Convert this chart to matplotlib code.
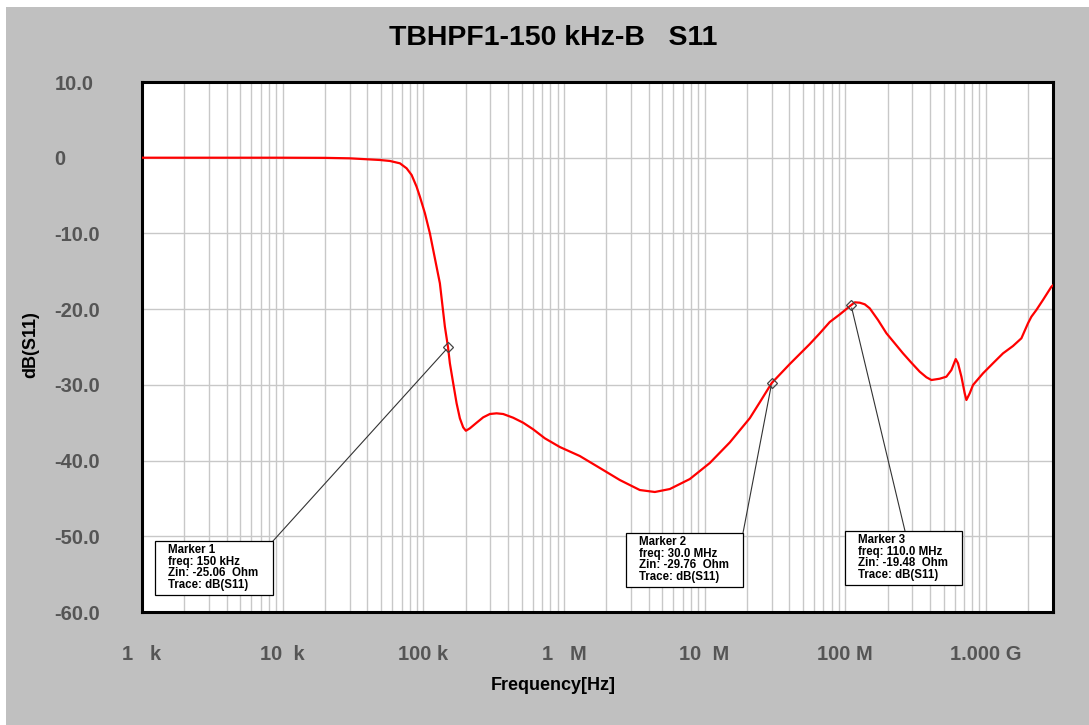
import numpy as np
import matplotlib
matplotlib.use("Agg")
import matplotlib.pyplot as plt
from matplotlib.patches import Rectangle
from matplotlib.ticker import LogLocator, NullFormatter

# ---- data ----
freq_hz = [1e3, 5e3, 1e4, 2e4, 3e4, 49.1e3, 57.9e3, 68.2e3, 76.1e3, 82.6e3, 89.6e3, 94.6e3,
           102.7e3, 111.4e3, 120.9e3, 131.2e3, 142.4e3, 150e3, 154.5e3, 163.2e3, 172.5e3,
           182.0e3, 192.1e3, 200.8e3, 214.4e3, 239.3e3, 266.6e3, 297.4e3, 331.9e3, 369.8e3,
           435.5e3, 512.9e3, 604.0e3, 731.6e3,
           935e3, 1.297e6, 1.800e6, 2.497e6, 3.463e6, 4.428e6, 5.657e6, 7.850e6, 10.89e6,
           15.11e6, 20.96e6, 24.69e6, 30.0e6, 40.32e6, 55.94e6, 65.9e6, 77.6e6, 91.4e6,
           110e6, 116.8e6, 126.8e6, 137.6e6, 149.3e6, 171.1e6, 196.3e6, 224.8e6, 257.5e6,
           295.4e6, 338.4e6, 377.7e6, 410.0e6, 469.5e6, 524.0e6, 568.5e6, 610.2e6, 633.5e6,
           669.8e6, 707.0e6, 726.9e6, 767.3e6, 809.8e6, 953.7e6, 1.123e9, 1.323e9, 1.558e9,
           1.788e9, 1.992e9, 2.106e9, 2.285e9, 2.545e9, 2.922e9, 3.0e9]
s11_db = [0.0, 0.0, 0.0, -0.02, -0.08, -0.30, -0.43, -0.74, -1.40, -2.28, -3.83, -5.15,
          -7.34, -9.99, -13.29, -16.59, -22.32, -25.06, -27.15, -29.80, -32.44,
          -34.42, -35.61, -36.06, -35.74, -35.00, -34.29, -33.85, -33.76, -33.85,
          -34.34, -35.00, -35.87, -37.06,
          -38.21, -39.40, -40.98, -42.57, -43.89, -44.15, -43.76, -42.44, -40.32,
          -37.60, -34.40, -32.30, -29.76, -27.25, -24.61, -23.19, -21.70, -20.70,
          -19.48, -19.10, -19.15, -19.36, -19.89, -21.44, -23.19, -24.51, -25.84,
          -27.08, -28.26, -29.00, -29.36, -29.19, -28.92, -28.04, -26.59, -27.15,
          -28.92, -31.12, -32.00, -31.12, -30.02, -28.48, -27.15, -25.84, -24.87,
          -23.85, -21.87, -21.00, -20.11, -18.79, -17.04, -16.85]

marker_freq = [150e3, 30.0e6, 110.0e6]
marker_db = [-25.06, -29.76, -19.48]
marker_text = [
    ["Marker 1", "freq: 150 kHz", "Zin: -25.06  Ohm", "Trace: dB(S11)"],
    ["Marker 2", "freq: 30.0 MHz", "Zin: -29.76  Ohm", "Trace: dB(S11)"],
    ["Marker 3", "freq: 110.0 MHz", "Zin: -19.48  Ohm", "Trace: dB(S11)"],
]

xtick_vals = [1e3, 1e4, 1e5, 1e6, 1e7, 1e8, 1e9]
xtick_labels = ["1   k", "10  k", "100 k", "1   M", "10  M", "100 M", "1.000 G"]
ytick_vals = [10, 0, -10, -20, -30, -40, -50, -60]
ytick_labels = ["10.0", "0", "-10.0", "-20.0", "-30.0", "-40.0", "-50.0", "-60.0"]

title = "TBHPF1-150 kHz-B   S11"

# ---- figure ----
W, H = 1089, 725
plt.rcParams['font.family'] = ['Liberation Sans', 'DejaVu Sans']
fig = plt.figure(figsize=(W / 100, H / 100), dpi=100, facecolor="white")
fig.patches.append(Rectangle((6 / W, 0), 1 - 6 / W, 1 - 7 / H, transform=fig.transFigure,
                             facecolor="#c0c0c0", edgecolor="none", zorder=-10))

L, R, T, B = 142, 1053, 82, 612
ax = fig.add_axes([L / W, 1 - B / H, (R - L) / W, (B - T) / H])
ax.set_facecolor("white")

ax.set_xscale("log")
ax.set_xlim(1e3, 3e9)
ax.set_ylim(-60, 10)

ax.plot(freq_hz, s11_db, color="#ff0000", lw=1.6, zorder=3, solid_joinstyle="round")

# grid
ax.xaxis.set_major_locator(LogLocator(base=10, numticks=20))
ax.xaxis.set_minor_locator(LogLocator(base=10, subs=np.arange(2, 10), numticks=100))
ax.xaxis.set_minor_formatter(NullFormatter())
ax.grid(True, which="both", axis="x", color="#c8c8c8", lw=1.0)
ax.grid(True, which="major", axis="y", color="#c8c8c8", lw=1.0)
ax.set_axisbelow(True)

ax.set_xticks(xtick_vals)
ax.set_xticklabels(xtick_labels)
ax.set_yticks(ytick_vals)
ax.set_yticklabels(ytick_labels)
ax.tick_params(axis="both", which="both", length=0)
ax.tick_params(axis="x", pad=24, labelsize=14.5, labelcolor="#555555")
ax.tick_params(axis="y", pad=63, labelsize=14.5, labelcolor="#555555")
for lbl in ax.get_xticklabels() + ax.get_yticklabels():
    lbl.set_fontweight("bold")
for lbl in ax.get_yticklabels():
    lbl.set_horizontalalignment("left")

for sp in ax.spines.values():
    sp.set_linewidth(2.2)
    sp.set_color("black")

fig.text(553 / W, 1 - 38 / H, title, ha="center", va="center", fontsize=20.5,
         fontweight="bold", color="black")
fig.text(553 / W, 1 - 686 / H, "Frequency[Hz]", ha="center", va="center", fontsize=13,
         fontweight="bold", color="black")
fig.text(31 / W, 1 - 345 / H, "dB(S11)", ha="center", va="center", rotation=90,
         fontsize=13, fontweight="bold", color="black")

# marker symbols
ax.plot(marker_freq, marker_db, linestyle="none", marker="D", markersize=5,
        markerfacecolor="none", markeredgecolor="#444444", mew=0.9, zorder=4)


def axfrac(px, py):
    return (px - L) / (R - L), (B - py) / (B - T)


# marker boxes (pixel layout)
boxes = [(155, 541, 273, 595), (626, 533, 743, 587), (845, 531, 962, 585)]
anchors = [(273, 541), (743, 533), (905, 531)]
for (fx, fy), lines, (x0, y0, x1, y1), (axp, ayp) in zip(zip(marker_freq, marker_db),
                                                        marker_text, boxes, anchors):
    bx0, by1 = axfrac(x0, y0)
    bx1, by0 = axfrac(x1, y1)
    ax.add_patch(Rectangle((bx0, by0), bx1 - bx0, by1 - by0, transform=ax.transAxes,
                           facecolor="white", edgecolor="black", lw=0.9, zorder=5))
    ax.annotate("", xy=(fx, fy), xycoords="data", xytext=axfrac(axp, ayp),
                textcoords="axes fraction",
                arrowprops=dict(arrowstyle="-", color="#333333", lw=0.8,
                                shrinkA=0, shrinkB=2), zorder=4)
    for i, line in enumerate(lines):
        tx, ty = axfrac(x0 + 13, y0 + 12 + i * 11.7)
        ax.text(tx, ty, line, transform=ax.transAxes, fontsize=8.3, fontweight="bold",
                color="black", ha="left", va="baseline", zorder=6)

fig.savefig("out.png", dpi=100, facecolor=fig.get_facecolor())
